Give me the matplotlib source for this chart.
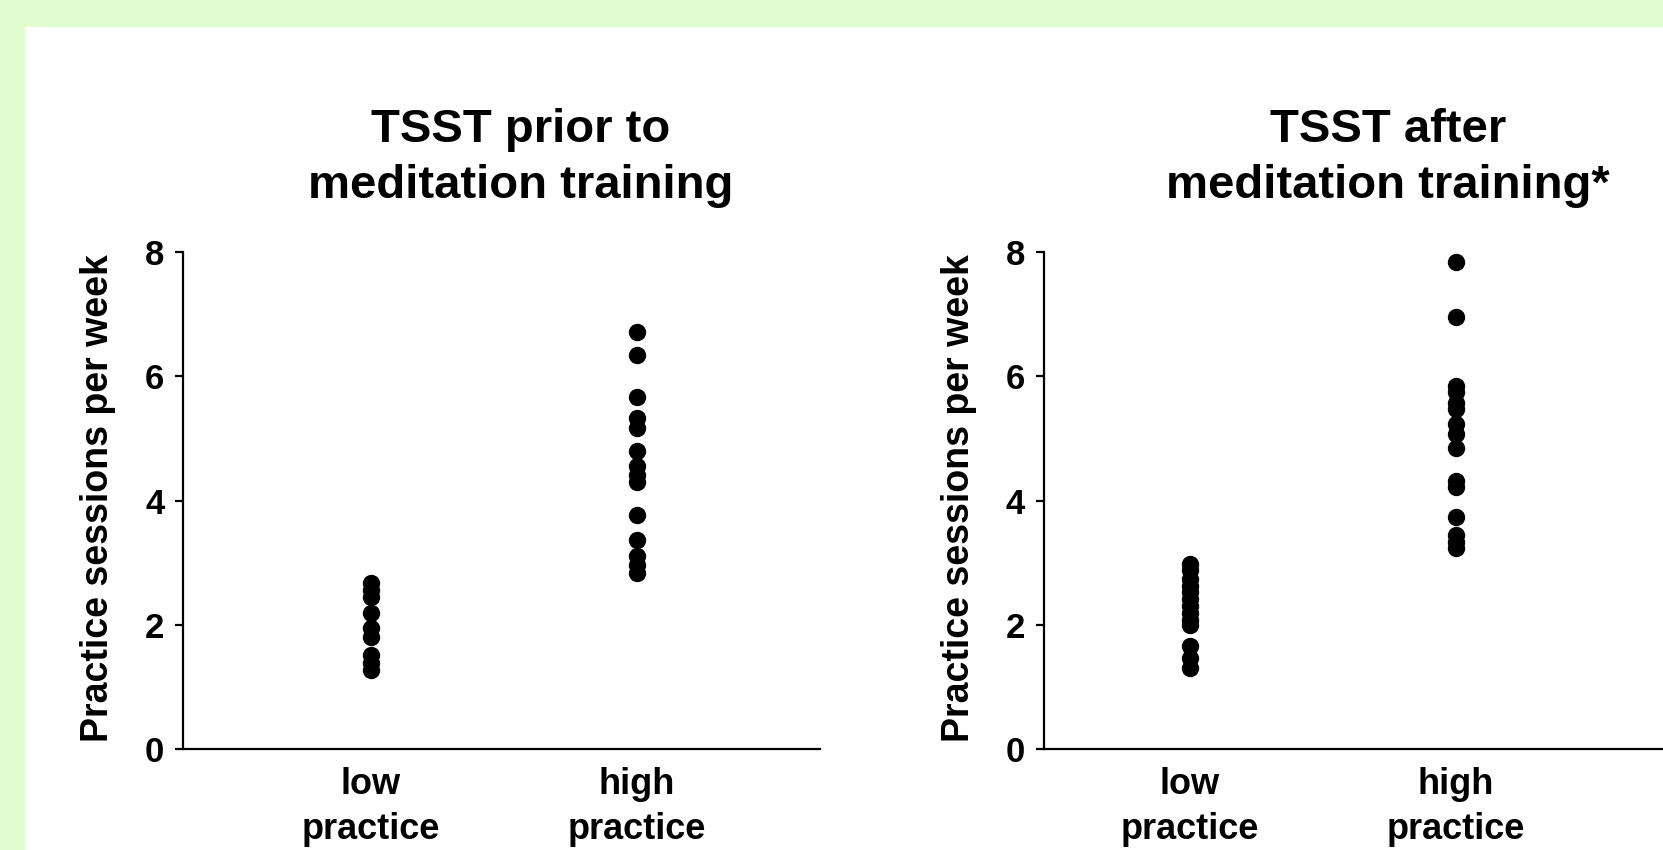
import matplotlib
matplotlib.use("Agg")
import matplotlib.pyplot as plt
from matplotlib.patches import Rectangle

plt.rcParams['font.family'] = ['Liberation Sans', 'DejaVu Sans']
plt.rcParams['font.weight'] = 'bold'

# values (practice sessions per week)
groups = ["low\npractice", "high\npractice"]
pre_low = [2.68, 2.56, 2.44, 2.19, 1.94, 1.80, 1.51, 1.38, 1.27]
pre_high = [6.71, 6.34, 5.67, 5.33, 5.16, 4.79, 4.55, 4.41, 4.29, 3.76, 3.36, 3.10, 2.96, 2.83]
post_low = [2.97, 2.88, 2.74, 2.63, 2.52, 2.41, 2.30, 2.19, 2.08, 2.00, 1.66, 1.47, 1.30]
post_high = [7.84, 6.96, 5.85, 5.75, 5.57, 5.47, 5.23, 5.07, 4.85, 4.32, 4.21, 3.74, 3.44, 3.33, 3.24]
yticks = [0, 2, 4, 6, 8]

W, H = 1663, 850
fig = plt.figure(figsize=(W / 100, H / 100), dpi=100, facecolor="#e0fdd0")
# white panel on the green background
fig.patches.append(Rectangle((25 / W, 0), 1, (H - 27) / H, transform=fig.transFigure,
                             facecolor="white", edgecolor="none", zorder=-10))

panels = [
    (183, 637, 0.293, pre_low, pre_high, "TSST prior to\nmeditation training", 521),
    (1044, 656, 0.451, post_low, post_high, "TSST after\nmeditation training*", 1388),
]

for left, width, x0, low, high, title, tx in panels:
    ax = fig.add_axes([left / W, (H - 749) / H, width / W, 497 / H])
    ax.set_facecolor("none")
    ax.plot([1] * len(low), low, "o", color="black", ms=11.5, mec="black")
    ax.plot([2] * len(high), high, "o", color="black", ms=11.5, mec="black")
    ax.set_xlim(x0, x0 + width / 266)
    ax.set_ylim(0, 8)
    ax.set_yticks(yticks)
    ax.set_xticks([1, 2])
    ax.set_xticklabels(groups, fontsize=26, fontweight="bold", linespacing=1.38)
    for s in ["top", "right"]:
        ax.spines[s].set_visible(False)
    for s in ["left", "bottom"]:
        ax.spines[s].set_linewidth(1.6)
    ax.tick_params(axis="y", length=5.5, width=1.6, pad=8, labelsize=25)
    ax.tick_params(axis="x", length=0, pad=13)
    for lbl in ax.get_yticklabels():
        lbl.set_fontweight("bold")
    fig.text((left - 85) / W, (H - 498) / H, "Practice sessions per week",
             rotation=90, ha="center", va="center", fontsize=27, fontweight="bold")
    fig.text(tx / W, (H - 158) / H, title, ha="center", va="center",
             fontsize=34, fontweight="bold", linespacing=1.35)

fig.savefig("out.png", dpi=100, facecolor=fig.get_facecolor())
